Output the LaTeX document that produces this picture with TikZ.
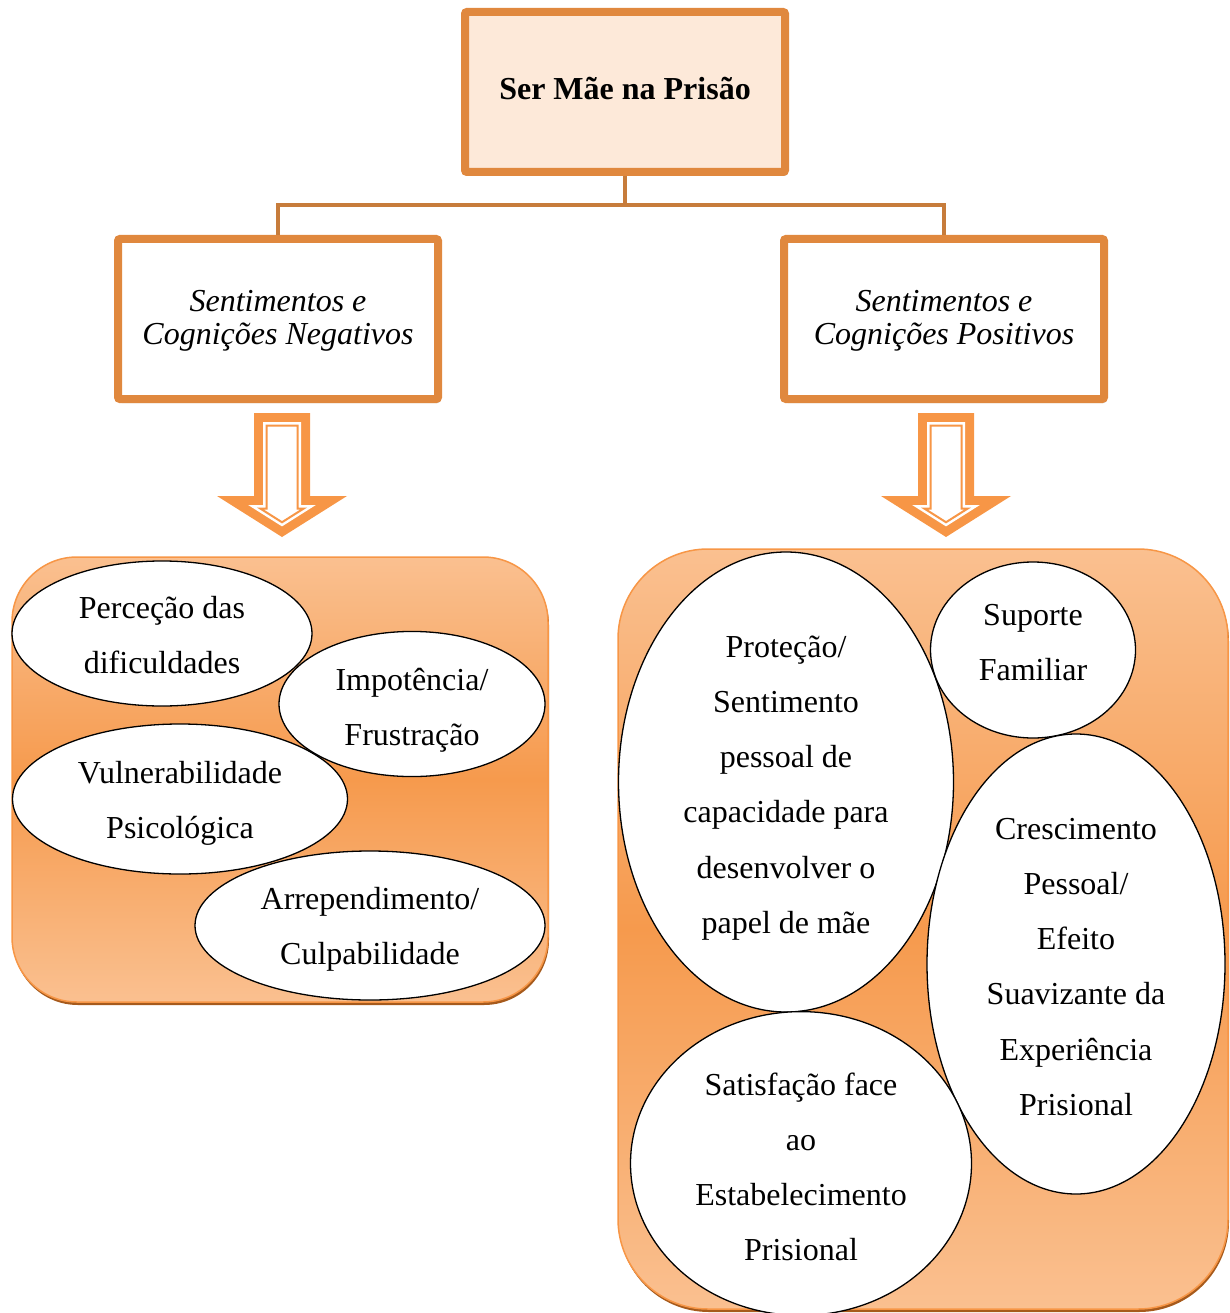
\documentclass[tikz,border=0pt]{standalone}
\usepackage{fontspec}
\setmainfont{Liberation Serif}
\usetikzlibrary{shapes.geometric,shadows}
\definecolor{boxline}{RGB}{224,136,62}
\definecolor{connc}{RGB}{199,124,59}
\definecolor{topfill}{RGB}{253,233,217}
\definecolor{arrowc}{RGB}{247,150,70}
\definecolor{panlight}{RGB}{250,192,144}
\definecolor{panmid}{RGB}{246,154,77}
\definecolor{panedge}{RGB}{247,150,70}
\definecolor{panshadow}{RGB}{166,90,28}
\newcommand{\blockarr}[3]{\path[#3] ({#1-28+#2},{413+#2}) -- ({#1+28-#2},{413+#2}) -- ({#1+28-#2},{496+#2}) -- ({#1+65-3.46*#2},{496+#2}) -- (#1,{537-1.18*#2}) -- ({#1-65+3.46*#2},{496+#2}) -- ({#1-28+#2},{496+#2}) -- cycle;}
\newcommand{\tstr}[1]{\rule{0pt}{#1pt}}
\newcommand{\bstr}[1]{\rule[-#1pt]{0pt}{#1pt}}
\begin{document}
\begin{tikzpicture}[x=1pt,y=-1pt,
  hbox/.style={rectangle, draw=boxline, line width=8pt, minimum width=320pt, minimum height=160pt,
    inner sep=0pt, align=center, rounded corners=2pt,
    drop shadow={opacity=0.3, shadow xshift=2pt, shadow yshift=-4pt}},
  conn/.style={draw=connc, line width=4.5pt},
  panel/.style={rectangle, draw=panedge, line width=1.5pt, top color=panlight, bottom color=panlight,
    middle color=panmid, inner sep=0pt,
    drop shadow={fill=panshadow, opacity=1, shadow xshift=1pt, shadow yshift=-3pt}},
  ell/.style={ellipse, draw=black, line width=1.3pt, fill=white, inner sep=0pt, align=center,
    font=\fontsize{32}{55.3}\selectfont},
  boxtext/.style={font=\fontsize{32}{32.5}\selectfont\itshape}
]
\useasboundingbox (0,0) rectangle (1230,1313);

% header boxes
\node[hbox, fill=topfill, font=\fontsize{32}{38}\selectfont\bfseries] (top) at (625,92) {\tstr{26}Ser Mãe na Prisão\bstr{10}};
\node[hbox, fill=white, boxtext] (neg) at (278,319) {\tstr{30}Sentimentos e\\Cognições Negativos\bstr{11.5}};
\node[hbox, fill=white, boxtext] (pos) at (944,319) {\tstr{30}Sentimentos e\\Cognições Positivos\bstr{11.5}};

% connectors
\coordinate (bus) at (625,205);
\draw[conn] (top.south) -- (bus) -| (neg.north);
\draw[conn] (bus) -| (pos.north);

% block arrows
\blockarr{282}{0}{fill=arrowc}
\blockarr{282}{9}{fill=white}
\blockarr{282}{12.5}{draw=arrowc, line width=2pt, fill=white}
\blockarr{946}{0}{fill=arrowc}
\blockarr{946}{9}{fill=white}
\blockarr{946}{12.5}{draw=arrowc, line width=2pt, fill=white}

% panels
\node[panel, rounded corners=65pt, minimum width=536pt, minimum height=445pt] (negpanel) at (280,779.5) {};
\node[panel, rounded corners=90pt, minimum width=610pt, minimum height=760pt] (pospanel) at (923,929) {};

% negative ellipses
\node[ell, minimum width=300pt, minimum height=145pt] (perc) at (162,633.5) {\tstr{34.3}Perceção das\\dificuldades\bstr{10}};
\node[ell, minimum width=266pt, minimum height=144pt] (impot) at (412,704) {\tstr{37.3}Impotência/\\Frustração\bstr{10}};
\node[ell, minimum width=335pt, minimum height=150pt] (vuln) at (180,799) {\tstr{33.3}Vulnerabilidade\\Psicológica\bstr{10}};
\node[ell, minimum width=350pt, minimum height=149pt] (arrep) at (370,925.5) {\tstr{32.3}Arrependimento/\\Culpabilidade\bstr{10}};

% positive ellipses
\node[ell, minimum width=335pt, minimum height=460pt] (prot) at (786,782) {\tstr{36.5}Proteção/\\Sentimento\\pessoal de\\capacidade para\\desenvolver o\\papel de mãe\bstr{10}};
\node[ell, minimum width=205pt, minimum height=176pt] (sup) at (1033,650) {\tstr{30}Suporte\\Familiar\bstr{24.7}};
\node[ell, minimum width=298pt, minimum height=460pt] (cresc) at (1076,964) {\tstr{36.5}Crescimento\\Pessoal/\\Efeito\\Suavizante da\\Experiência\\Prisional\bstr{10}};
\node[ell, minimum width=341pt, minimum height=298pt] (satis) at (801,1163.5) {\tstr{38.9}Satisfação face\\ao\\Estabelecimento\\Prisional\bstr{10}};
\end{tikzpicture}
\end{document}
